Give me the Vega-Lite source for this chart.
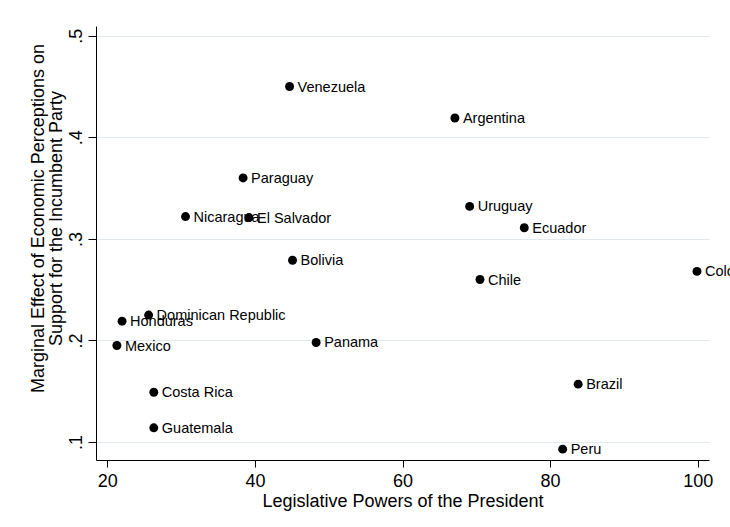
{
  "$schema": "https://vega.github.io/schema/vega-lite/v6.json",
  "autosize": "none",
  "width": 613,
  "height": 434,
  "padding": {"left": 96, "top": 26, "right": 21, "bottom": 67},
  "background": "white",
  "config": {
    "view": {"stroke": null},
    "font": "Liberation Sans",
    "axis": {
      "domainColor": "black",
      "tickColor": "black",
      "labelColor": "black",
      "titleColor": "black",
      "labelFont": "Liberation Sans",
      "titleFont": "Liberation Sans",
      "labelFontSize": 18,
      "titleFontSize": 18,
      "titleFontWeight": "normal"
    }
  },
  "data": {
    "values": [
      {"country": "Venezuela", "powers": 44.7, "effect": 0.450},
      {"country": "Argentina", "powers": 67.1, "effect": 0.419},
      {"country": "Paraguay", "powers": 38.4, "effect": 0.360},
      {"country": "Nicaragua", "powers": 30.6, "effect": 0.322},
      {"country": "El Salvador", "powers": 39.2, "effect": 0.321},
      {"country": "Uruguay", "powers": 69.1, "effect": 0.332},
      {"country": "Ecuador", "powers": 76.5, "effect": 0.311},
      {"country": "Bolivia", "powers": 45.1, "effect": 0.279},
      {"country": "Chile", "powers": 70.5, "effect": 0.260},
      {"country": "Colombia", "powers": 99.9, "effect": 0.268},
      {"country": "Dominican Republic", "powers": 25.6, "effect": 0.225},
      {"country": "Honduras", "powers": 22.0, "effect": 0.219},
      {"country": "Mexico", "powers": 21.3, "effect": 0.195},
      {"country": "Panama", "powers": 48.3, "effect": 0.198},
      {"country": "Costa Rica", "powers": 26.3, "effect": 0.149},
      {"country": "Brazil", "powers": 83.8, "effect": 0.157},
      {"country": "Guatemala", "powers": 26.3, "effect": 0.114},
      {"country": "Peru", "powers": 81.7, "effect": 0.093}
    ]
  },
  "encoding": {
    "x": {
      "field": "powers",
      "type": "quantitative",
      "scale": {"domain": [18.47, 101.53], "nice": false, "zero": false},
      "axis": {
        "title": "Legislative Powers of the President",
        "values": [20, 40, 60, 80, 100],
        "grid": false,
        "tickSize": 7,
        "labelPadding": 5,
        "titlePadding": 2
      }
    },
    "y": {
      "field": "effect",
      "type": "quantitative",
      "scale": {"domain": [0.0823, 0.5096], "nice": false, "zero": false},
      "axis": {
        "title": ["Marginal Effect of Economic Perceptions on", "Support for the Incumbent Party"],
        "values": [0.1, 0.2, 0.3, 0.4, 0.5],
        "format": ".1f",
        "labelExpr": "replace(datum.label, '0.', '.')",
        "grid": true,
        "gridColor": "#e1e8ee",
        "gridWidth": 1,
        "tickSize": 8,
        "labelAngle": -90,
        "labelAlign": "center",
        "labelBaseline": "bottom",
        "labelPadding": 3,
        "titlePadding": 2,
        "titleY": 192,
        "titleLineHeight": 18
      }
    }
  },
  "layer": [
    {
      "mark": {"type": "text", "align": "left", "baseline": "middle", "dx": 8, "dy": 1, "fontSize": 14.5, "color": "black", "font": "Liberation Sans"},
      "encoding": {"text": {"field": "country"}}
    },
    {
      "mark": {"type": "point", "filled": true, "shape": "circle", "size": 80, "color": "black", "opacity": 1}
    }
  ]
}
